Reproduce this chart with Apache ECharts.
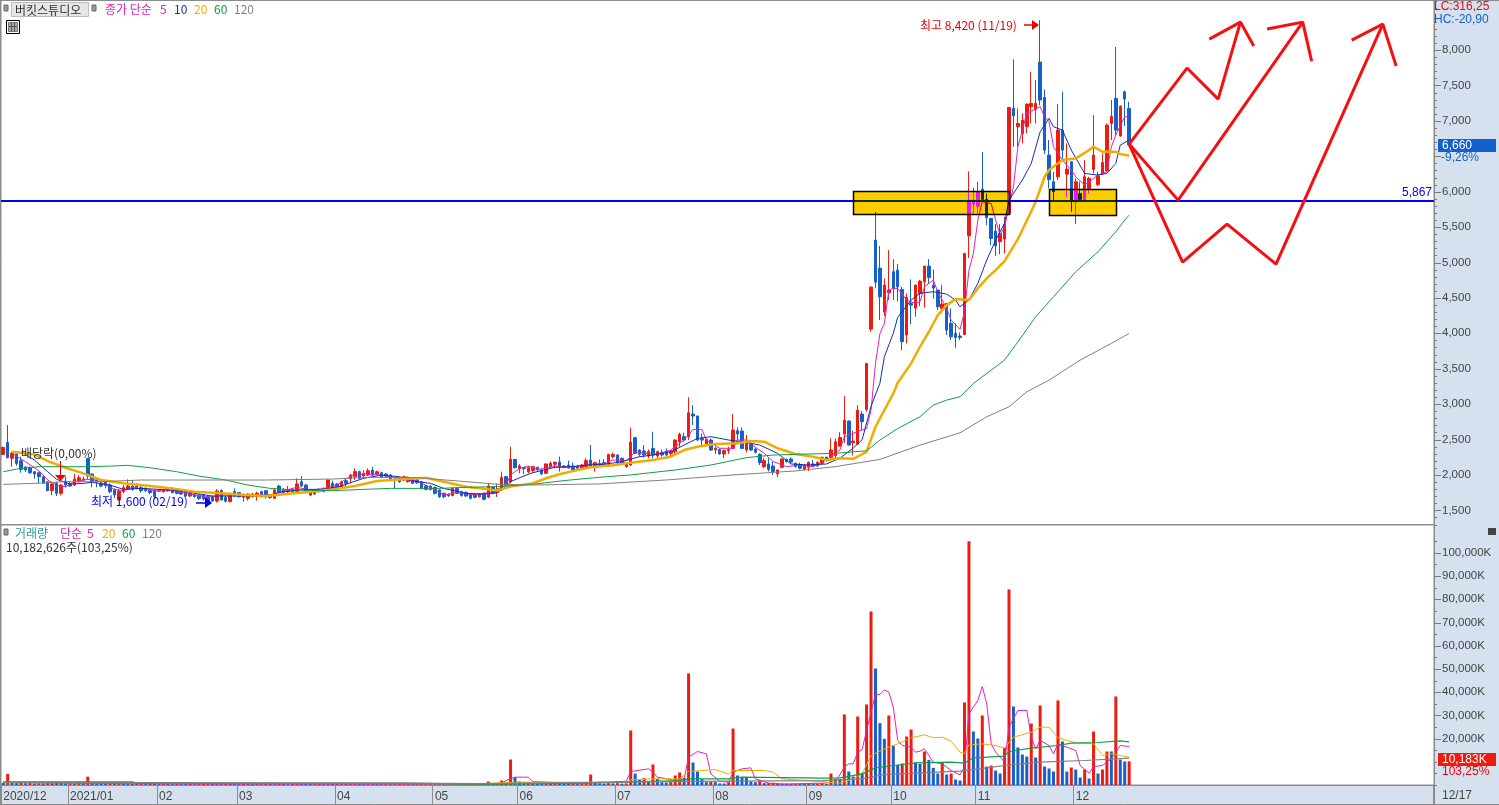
<!DOCTYPE html>
<html><head><meta charset="utf-8">
<script src="https://cdn.jsdelivr.net/npm/echarts@6/dist/echarts.min.js"></script>
<style>html,body{margin:0;padding:0;background:#d6e1ef}#c{width:1499px;height:805px}</style>
</head><body><div id="c"></div>
<script>
// [open, close, low, high]
const candles = [
[2290,2389,2290,2400],[2459,2243,2235,2703],[2234,2304,2116,2327],[2295,2163,2130,2300],[2201,2078,2031,2257],[2111,2069,2045,2125],[2107,2031,2013,2116],[2046,2013,1947,2055],[2031,1975,1881,2046],[1975,1881,1872,1984],
[1905,1778,1770,1915],[1778,1872,1716,1881],[1881,1740,1702,1905],[1740,1857,1712,1872],[1914,1857,1825,1975],[1881,1843,1830,1900],[1857,1942,1843,2013],[1914,1961,1890,1998],[1928,1942,1905,1975],[2234,1984,1940,2240],
[2013,1905,1825,2020],[1928,1905,1825,1952],[1881,1843,1825,1905],[1895,1853,1810,1928],[1857,1764,1740,1881],[1787,1716,1670,1810],[1646,1773,1640,1800],[1764,1820,1740,1857],[1796,1843,1787,1937],[1843,1796,1778,1928],
[1810,1843,1796,1881],[1820,1778,1750,1843],[1810,1778,1760,1825],[1787,1750,1730,1800],[1778,1693,1655,1796],[1773,1787,1760,1800],[1764,1787,1750,1800],[1778,1796,1765,1805],[1810,1750,1740,1820],[1796,1740,1725,1805],
[1778,1731,1716,1790],[1764,1702,1690,1775],[1702,1740,1690,1750],[1721,1693,1680,1735],[1716,1665,1645,1730],[1716,1660,1640,1725],[1693,1622,1600,1710],[1693,1632,1620,1705],[1632,1773,1610,1800],[1778,1646,1640,1796],
[1684,1630,1610,1702],[1622,1740,1615,1745],[1764,1702,1693,1810],[1750,1693,1680,1760],[1684,1716,1622,1740],[1670,1731,1637,1740],[1693,1731,1680,1745],[1693,1740,1637,1764],[1764,1693,1680,1775],[1778,1702,1665,1787],
[1702,1679,1665,1715],[1670,1787,1660,1810],[1843,1754,1745,1860],[1796,1754,1740,1810],[1764,1787,1740,1843],[1796,1764,1750,1810],[1764,1872,1754,1952],[1905,1843,1834,1984],[1857,1764,1750,1870],[1716,1764,1700,1775],
[1731,1787,1720,1800],[1796,1764,1750,1810],[1810,1764,1755,1825],[1787,1928,1778,1937],[1881,1810,1787,1919],[1872,1825,1810,1885],[1834,1905,1820,1920],[1919,1881,1810,1952],[1942,1998,1881,2013],[1975,2046,1928,2092],
[2046,1952,1940,2060],[1984,2022,1952,2069],[1998,2060,1985,2092],[2069,1998,1984,2116],[2013,2046,2000,2060],[2031,1966,1955,2045],[2013,1984,1970,2025],[1998,1928,1915,2010],[1942,1928,1810,1950],[1952,1905,1890,1965],
[1928,1975,1915,1990],[1905,1966,1890,1980],[1937,1881,1870,1950],[1928,1890,1875,1940],[1905,1810,1795,1915],[1843,1796,1785,1855],[1843,1796,1780,1855],[1825,1740,1725,1835],[1787,1693,1675,1800],[1740,1693,1670,1750],
[1726,1707,1690,1740],[1707,1810,1700,1825],[1810,1740,1730,1825],[1764,1707,1695,1775],[1754,1702,1690,1765],[1726,1670,1655,1735],[1726,1684,1670,1735],[1693,1731,1680,1745],[1740,1655,1640,1750],[1684,1843,1680,1880],
[1825,1740,1725,1835],[1750,1801,1690,1880],[1788,1967,1779,2047],[1976,1858,1858,1985],[1905,2220,1882,2399],[2220,2103,2090,2225],[2094,2126,2023,2155],[2103,2089,2014,2108],[2042,2103,2023,2117],[2061,2117,2032,2126],
[2108,2070,2047,2117],[2070,2014,2000,2079],[2023,2155,2014,2164],[2117,2164,2108,2188],[2150,2178,2108,2190],[2183,2108,2047,2258],[2108,2126,2094,2140],[2140,2098,2089,2202],[2126,2070,2056,2173],[2126,2094,2070,2140],
[2079,2140,2070,2155],[2117,2202,2103,2235],[2211,2108,2103,2422],[2126,2173,2047,2188],[2164,2131,2117,2220],[2173,2140,2117,2220],[2126,2291,2117,2296],[2258,2291,2235,2314],[2282,2173,2140,2290],[2235,2155,2140,2245],
[2117,2155,2103,2173],[2140,2465,2126,2667],[2526,2305,2296,2530],[2352,2291,2258,2361],[2338,2282,2244,2422],[2267,2329,2235,2361],[2375,2282,2235,2610],[2267,2329,2211,2343],[2314,2282,2258,2361],[2338,2282,2258,2375],
[2305,2338,2235,2352],[2328,2493,2305,2502],[2470,2573,2399,2596],[2540,2493,2470,2596],[2540,2878,2493,3095],[2860,2831,2705,2986],[2831,2493,2480,2840],[2516,2493,2399,2587],[2437,2502,2422,2516],[2493,2352,2338,2516],
[2352,2375,2296,2399],[2361,2296,2285,2370],[2296,2343,2235,2361],[2343,2361,2296,2399],[2375,2634,2361,2860],[2625,2578,2493,2672],[2620,2375,2370,2672],[2352,2470,2319,2564],[2432,2352,2340,2440],[2366,2319,2305,2375],
[2291,2173,2140,2305],[2117,2202,2094,2235],[2155,2079,2047,2235],[2126,2047,2000,2188],[2014,2070,1967,2079],[2108,2225,2094,2235],[2220,2188,2175,2230],[2225,2183,2164,2249],[2164,2117,2105,2175],[2145,2094,2079,2173],
[2079,2140,2065,2150],[2108,2178,2056,2190],[2155,2126,2108,2211],[2126,2178,2115,2190],[2164,2249,2150,2260],[2249,2202,2190,2260],[2249,2352,2235,2516],[2272,2470,2235,2516],[2407,2529,2397,2605],[2577,2774,2454,3113],
[2760,2421,2415,2770],[2454,2478,2275,2623],[2435,2915,2421,2986],[2859,2751,2633,2901],[2925,3575,2892,3580],[4059,4653,4022,4660],[5317,4723,4634,5712],[4921,4516,4187,5232],[4300,4681,4243,4775],[4573,4610,4469,5175],
[4869,4634,4469,5048],[4893,4657,4455,4978],[4620,3881,3763,4657],[3975,4507,3857,4563],[4422,4398,4130,4761],[4356,4681,4234,4685],[4563,4737,4384,4751],[4728,4949,4361,4955],[4949,4789,4704,5048],[4681,4639,4488,4902],
[4610,4375,4328,4615],[4351,4413,4281,4681],[4422,4045,3975,4430],[4140,3951,3904,4351],[3998,3942,3796,4140],[3961,3942,3904,4012],[3984,5128,3975,5135],[5377,5881,5062,6286],[5825,5881,5693,6055],[5796,6000,5700,6140],
[6037,5891,5881,6559],[5891,5632,5528,5975],[5622,5340,5246,5630],[5443,5236,5095,5542],[5293,5410,5118,5542],[5330,5542,5128,5646],[5693,7190,5680,7195],[7176,7072,6634,7868],[6917,6964,6634,7176],[6823,7011,6682,7105],
[6917,7237,6823,7245],[7199,7246,6964,7694],[7162,7246,6964,7576],[7830,7294,7223,8420],[7331,6587,6531,7444],[6517,6173,6046,6729],[6140,6000,5881,6281],[6211,6870,6164,7237],[6870,6587,6446,7411],[6248,6319,5928,6682],
[6423,5858,5716,6430],[5858,6140,5542,6187],[5975,5891,5872,6140],[5891,6211,5858,6446],[6046,6187,5975,6211],[6314,6517,6258,7082],[6102,6220,6079,6281],[6258,6413,6234,6540],[6295,6940,6281,6964],[6964,7063,6729,7294],
[7317,6870,6799,8042],[6785,7209,6780,7215],[7411,7308,6926,7425],[7176,6660,6650,7270]
];
const volumes = [
900,4800,1000,800,900,700,800,600,700,600,800,700,900,800,600,700,600,800,700,3600,
800,700,600,500,600,500,600,500,400,500,450,500,400,500,450,400,500,450,400,500,
450,400,450,400,500,600,800,500,900,600,700,500,450,400,500,450,400,450,400,500,
450,400,500,450,400,450,800,600,500,450,400,450,400,700,500,450,500,450,600,700,
500,450,600,500,450,400,500,450,400,450,500,450,400,450,400,500,450,400,500,450,
400,500,450,400,450,400,450,500,400,1500,500,600,1930,600,10980,3370,1500,1200,1300,900,
700,600,800,700,800,700,600,500,550,500,600,1000,4520,900,700,600,800,700,800,600,
700,23480,4950,2200,2940,1500,8830,2650,1200,1000,1300,4090,5380,3080,48060,9690,5810,2500,1200,1300,
1250,700,650,1200,24340,4090,3370,3370,1500,1200,2200,800,900,1000,800,700,600,500,600,500,
450,600,500,600,780,490,4940,2640,2640,30380,5800,3650,29500,5230,34690,74780,50200,26640,19890,29950,
17010,8680,9250,20890,23910,9680,9110,14430,10830,7390,4940,9680,4510,4940,2350,1920,35550,104960,23050,20030,
29950,7960,8390,6240,4940,16010,84260,33830,16150,13130,12270,26500,11840,34260,7960,7100,5800,36410,18740,5800,
7530,6670,3220,6670,2790,23050,4940,6670,14430,14430,38140,10980,10120,10183
];
// moving averages: [session index, value]
const ma5 = [[2,2304],[5,2186],[8,2060],[10,1928],[12,1857],[14,1834],[16,1905],[19,1937],[21,1928],[23,1857],[25,1796],[27,1778],[29,1825],[31,1806],[34,1773],[38,1778],[42,1731],[46,1684],[49,1717],[52,1717],[56,1707],[60,1717],[63,1778],[66,1825],[69,1787],[72,1806],[75,1857],[78,1984],[81,2013],[85,1998],[89,1951],[93,1914],[96,1825],[99,1717],[102,1750],[106,1717],[110,1763],[113,1859],[114,1999],[116,2093],[118,2126],[120,2079],[122,2093],[124,2126],[126,2108],[129,2117],[132,2155],[135,2155],[137,2211],[140,2202],[142,2328],[144,2305],[147,2296],[150,2352],[153,2493],[155,2643],[157,2643],[158,2493],[161,2376],[164,2376],[165,2493],[167,2493],[169,2390],[171,2305],[173,2188],[176,2117],[179,2140],[182,2117],[185,2211],[187,2305],[188,2351],[189,2539],[191,2586],[194,2657],[195,2915],[196,3575],[197,3998],[198,4140],[199,4610],[200,4634],[201,4634],[203,4469],[205,4422],[206,4446],[207,4657],[209,4752],[210,4587],[212,4351],[213,4187],[215,4055],[216,4304],[217,4893],[218,5128],[219,5599],[220,5858],[222,5834],[223,5599],[224,5387],[225,5505],[226,5787],[227,6069],[228,6634],[230,7105],[233,7199],[234,7058],[235,6988],[236,6634],[238,6446],[240,6305],[241,6211],[243,6093],[245,6187],[246,6234],[248,6281],[249,6634],[250,6799],[252,7058],[253,7058]];
const ma10 = [[4,2327],[7,2210],[10,2046],[12,1937],[15,1872],[18,1881],[20,1895],[24,1857],[27,1796],[31,1810],[35,1796],[40,1778],[43,1740],[47,1702],[52,1702],[56,1702],[60,1716],[63,1764],[68,1796],[72,1796],[76,1843],[78,1890],[81,1952],[85,1998],[89,1975],[92,1914],[96,1881],[99,1810],[104,1740],[108,1730],[111,1749],[113,1835],[114,1906],[117,1985],[119,2032],[121,2061],[124,2108],[128,2117],[131,2140],[135,2150],[139,2187],[143,2258],[146,2281],[150,2328],[153,2422],[156,2516],[159,2540],[163,2493],[166,2470],[170,2422],[174,2305],[177,2155],[181,2140],[185,2155],[188,2238],[191,2379],[193,2497],[195,2967],[197,3296],[198,3669],[200,3999],[201,4226],[204,4469],[206,4565],[209,4587],[212,4554],[214,4469],[215,4375],[217,4469],[219,4705],[221,5034],[223,5317],[225,5552],[226,5881],[229,6164],[231,6399],[233,6846],[235,7035],[236,6917],[238,6870],[240,6587],[243,6258],[246,6234],[248,6258],[250,6399],[251,6658],[253,6729]];
const ma20 = [[2,2327],[7,2290],[10,2196],[14,2102],[18,2022],[22,1928],[27,1881],[33,1843],[38,1810],[43,1764],[49,1740],[54,1716],[59,1702],[63,1726],[69,1764],[74,1796],[79,1843],[84,1914],[89,1937],[95,1961],[99,1905],[104,1834],[109,1796],[111,1779],[114,1835],[119,1882],[122,1953],[125,2009],[129,2070],[132,2108],[137,2136],[141,2173],[146,2211],[150,2258],[153,2352],[156,2399],[160,2437],[165,2446],[168,2479],[171,2470],[174,2376],[178,2296],[182,2258],[185,2211],[188,2235],[191,2228],[194,2327],[196,2680],[198,2915],[200,3151],[201,3301],[204,3575],[206,3810],[208,4022],[210,4257],[212,4398],[214,4483],[217,4469],[219,4634],[221,4775],[223,4893],[225,5020],[228,5330],[230,5590],[232,5858],[234,6211],[235,6305],[238,6446],[241,6470],[244,6587],[245,6634],[247,6564],[250,6564],[251,6531],[253,6507]];
const ma60 = [[0,2045],[3,2083],[8,2116],[13,2116],[19,2116],[24,2125],[28,2135],[33,2102],[39,2045],[44,1984],[50,1928],[55,1857],[60,1810],[66,1787],[74,1778],[81,1796],[87,1810],[93,1810],[98,1810],[104,1825],[111,1835],[119,1868],[126,1920],[134,1967],[141,2000],[151,2070],[159,2140],[167,2244],[173,2281],[181,2296],[187,2305],[194,2341],[197,2492],[201,2656],[206,2821],[209,2986],[212,3057],[215,3104],[218,3292],[222,3480],[225,3622],[228,3880],[232,4234],[236,4516],[241,4869],[246,5152],[250,5434],[252,5599],[253,5669]];
const ma120 = [[0,1867],[7,1881],[14,1905],[22,1905],[31,1928],[44,1928],[59,1928],[74,1942],[82,1966],[93,1961],[104,1905],[111,1868],[119,1858],[134,1873],[149,1929],[164,2000],[178,2056],[187,2117],[197,2219],[206,2421],[215,2595],[221,2821],[226,2962],[230,3174],[235,3339],[242,3622],[249,3857],[253,3998]];
const volMa5 = [[0,1000],[10,800],[40,500],[107,400],[112,780],[113,1930],[115,3370],[118,3370],[119,1500],[127,780],[131,920],[134,1200],[136,1200],[140,1640],[141,5810],[145,6960],[146,5520],[147,3370],[148,3080],[151,1930],[153,2650],[154,11990],[156,14430],[158,13420],[159,4800],[161,1640],[163,1200],[164,5520],[166,6960],[168,7390],[169,2650],[172,780],[175,400],[184,780],[187,1200],[189,7670],[190,9110],[191,9110],[192,14140],[193,15290],[194,23480],[196,39000],[197,39000],[198,41010],[199,40000],[200,33540],[201,19170],[202,17010],[204,16300],[205,14140],[206,14570],[207,15580],[209,9830],[211,9110],[213,6240],[215,4370],[216,7670],[217,30670],[219,36410],[220,42450],[221,34970],[222,17730],[223,14140],[225,9830],[226,24920],[228,32100],[230,32100],[231,20610],[232,15580],[233,19170],[235,17010],[236,13420],[237,17730],[241,14860],[242,8390],[244,5090],[245,7960],[247,8390],[249,11260],[250,14140],[251,17010],[253,16580]];
const volMa20 = [[0,1100],[30,1000],[40,800],[107,490],[115,1200],[130,1200],[140,1200],[141,2220],[146,2650],[152,2650],[154,5810],[160,6670],[163,4800],[164,6240],[171,6240],[173,5520],[175,2650],[184,1400],[188,780],[191,2640],[193,4800],[195,12700],[198,15580],[201,17730],[204,20320],[207,21610],[209,20320],[211,20600],[213,18880],[215,14140],[216,13420],[217,17300],[220,17730],[223,17010],[225,15860],[227,20600],[231,22760],[233,24920],[235,24920],[237,20320],[241,18160],[245,17730],[247,12700],[249,13420],[253,11980]];
const volMa60 = [[0,1400],[29,1400],[30,800],[90,800],[107,400],[131,780],[140,1200],[152,1930],[154,2650],[163,2650],[166,3370],[184,2930],[188,3070],[193,4800],[196,7390],[200,8390],[205,9540],[213,9830],[216,9400],[218,11700],[225,12410],[226,14430],[231,15860],[237,17010],[240,18020],[246,18310],[251,19030],[253,18590]];
const volMa120 = [[0,1100],[90,850],[107,600],[163,1640],[184,1920],[193,2640],[198,4510],[206,5230],[215,5950],[221,7390],[225,8390],[233,9830],[243,10550],[253,11550]];
const monthStarts = [[0,'2020/12'],[15,'2021/01'],[35,'02'],[53,'03'],[75,'04'],[97,'05'],[116,'06'],[138,'07'],[160,'08'],[181,'09'],[200,'10'],[219,'11'],[241,'12']];
const priceTicks = [1500,2000,2500,3000,3500,4000,4500,5000,5500,6000,6500,7000,7500,8000];
const priceLabels = [1500,2000,2500,3000,3500,4000,4500,5000,5500,6000,7000,7500,8000];
const priceMinor = []; for (let v=1300;v<=8700;v+=100) if (v%500) priceMinor.push(v);
const volTicks = [20000,30000,40000,50000,60000,70000,80000,90000,100000];
const volMinor = [0,5000,10000,15000,25000,35000,45000,55000,65000,75000,85000,95000,105000];
const supportLevel = 5867;
const boxes = [[191,226,5684,6008],[235,250,5670,6037]];
const arrowPaths = [
 [[253,6672],[266,7746],[273,7308],[278,8395]], [[271,8155],[278,8395],[281,8056]],
 [[253,6672],[264,5881],[292,8395]], [[284,8297],[292,8395],[294,7845]],
 [[253,6672],[265,5006],[275,5542],[286,4977],[310,8367]], [[303,8141],[310,8367],[313,7774]]
];
const SLOTS = 322;
const categories = []; for (let i=0;i<SLOTS;i++) categories.push(String(i));
const monthMap = {}; monthStarts.forEach(m=>monthMap[m[0]]=m[1]);

const RED='#ee1c0e', BLUE='#1560cc', MAG='#e020c0', NAVY='#1030b0', ORG='#f0ac00', GRN='#10a040', GRY='#808080', AX='#8c8c8c', TXT='#444444';
const FONT='"Noto Sans CJK KR","Liberation Sans",sans-serif', NUM='"Liberation Sans",sans-serif';
const BOX_XOR='rgb(0,51,255)';

function ln(name,data,color,width,xi,yi,z){return {name,type:'line',data,xAxisIndex:xi,yAxisIndex:yi,symbol:'none',silent:true,z:z||3,
  lineStyle:{color,width},itemStyle:{color},animation:false};}
function tx(x,y,text,fill,font,extra){return Object.assign({type:'text',x,y,silent:true,z:50,style:{text,fill,font:(font||'12px '+FONT),textVerticalAlign:'middle',textAlign:'left'}},extra||{});}
// tick marks on the right of a pane, placed through the pane's own value scale
function tickSeries(name,values,len,xi,yi){return {name,type:'custom',xAxisIndex:xi,yAxisIndex:yi,silent:true,z:20,clip:false,
  data:values.map(v=>[v]),encode:{y:0},
  renderItem:function(p,api){
    const c=api.coord([0,api.value(0)]), x0=p.coordSys.x+p.coordSys.width, y=Math.round(c[1])+.5;
    return {type:'line',shape:{x1:x0,y1:y,x2:x0+len,y2:y},style:{stroke:'#7a7a7a',lineWidth:1,fill:null}};
  }};}

const graphics=[
 {type:'rect',shape:{x:4,y:5,width:4,height:6},style:{fill:'#999',stroke:'#666'},z:50},
 {type:'rect',shape:{x:11.5,y:2.5,width:77,height:14},style:{fill:'#e6e6e6',stroke:'#bbb'},z:50},
 tx(15,10,'버킷스튜디오','#333'),
 {type:'rect',shape:{x:92,y:5,width:4,height:6},style:{fill:'#999',stroke:'#666'},z:50},
 tx(105,9,'종가 단순',MAG), tx(160,9,'5',MAG), tx(174,9,'10',NAVY), tx(194,9,'20',ORG), tx(214,9,'60',GRN), tx(234,9,'120',GRY),
 {type:'rect',shape:{x:6.5,y:20.5,width:13,height:13},style:{fill:'#fff',stroke:'#000'},z:50},
 {type:'rect',shape:{x:8.5,y:22.5,width:9,height:9},style:{fill:'#aaa',stroke:'#777'},z:50},
 {type:'line',shape:{x1:11.5,y1:23,x2:11.5,y2:31},style:{stroke:'#555'},z:51},
 {type:'line',shape:{x1:14.5,y1:23,x2:14.5,y2:31},style:{stroke:'#555'},z:51},
 {type:'line',shape:{x1:9,y1:26.5,x2:17,y2:26.5},style:{stroke:'#555'},z:51},
 {type:'rect',shape:{x:4,y:529,width:4,height:6},style:{fill:'#999',stroke:'#666'},z:50},
 tx(15,533,'거래량','#2a9d9d'), tx(60,533,'단순',MAG), tx(87,533,'5',MAG), tx(102,533,'20',ORG), tx(122,533,'60',GRN), tx(142,533,'120',GRY),
 tx(6,547,'10,182,626주(103,25%)','#333'),
 {type:'rect',shape:{x:1488,y:528,width:8,height:7},style:{fill:'#444'},z:50},
 tx(920,25,'최고 8,420 (11/19)','#f00000'),
 {type:'line',shape:{x1:1024,y1:25,x2:1033,y2:25},style:{stroke:'#f00000',lineWidth:1.5},z:50},
 {type:'polygon',shape:{points:[[1032,20],[1039,25],[1032,30]]},style:{fill:'#f00000'},z:50},
 tx(91,501,'최저 1,600 (02/19)','#0000f0'),
 {type:'line',shape:{x1:196,y1:503,x2:206,y2:503},style:{stroke:'#0000f0',lineWidth:1.5},z:50},
 {type:'polygon',shape:{points:[[205,497],[212,503],[205,508]]},style:{fill:'#0000f0'},z:50},
 tx(21,453,'배당락(0,00%)','#333'),
 {type:'line',shape:{x1:60.5,y1:461,x2:60.5,y2:477},style:{stroke:'#f00000',lineWidth:1},z:50},
 {type:'polygon',shape:{points:[[55,475],[66,475],[60.5,481]]},style:{fill:'#f00000'},z:50},
 tx(1434,7,'LC:316,25','#e01010','12px '+NUM), tx(1434,20,'HC:-20,90',BLUE,'12px '+NUM),
 {type:'rect',shape:{x:1438,y:139,width:58,height:13},style:{fill:BLUE},z:50},
 tx(1442,145.5,'6,660','#fff','12px '+NUM), tx(1441,158,'-9,26%',BLUE,'12px '+NUM),
 {type:'rect',shape:{x:1438,y:753,width:58,height:13},style:{fill:RED},z:50},
 tx(1442,759.5,'10,183K','#fff','12px '+NUM), tx(1442,772,'103,25%','#f00000','12px '+NUM),
 tx(1442,796,'12/17',TXT,'12px '+NUM),
 {type:'line',shape:{x1:1433.5,y1:785,x2:1433.5,y2:805},style:{stroke:AX},z:50},
 {type:'line',shape:{x1:0,y1:804.5,x2:1499,y2:804.5},style:{stroke:AX},z:50},
 {type:'line',shape:{x1:0,y1:0.5,x2:1499,y2:0.5},style:{stroke:AX},z:50},
 {type:'line',shape:{x1:0.5,y1:0,x2:0.5,y2:805},style:{stroke:AX},z:50}
];

const series=[
 {name:'price',type:'candlestick',data:candles,xAxisIndex:0,yAxisIndex:0,barWidth:3,silent:true,z:2,
  itemStyle:{color:RED,color0:BLUE,borderColor:RED,borderColor0:BLUE,borderWidth:1},
  markLine:{silent:true,symbol:'none',animation:false,
    lineStyle:{color:'#0000ff',width:2,type:'solid'},
    label:{position:'insideEndTop',formatter:'5,867',color:'#0000f0',fontFamily:NUM,fontSize:12,distance:[2,2]},
    data:[{yAxis:supportLevel}]}},
 ln('5',ma5,MAG,1,0,0), ln('10',ma10,NAVY,1,0,0), ln('20',ma20,ORG,2.5,0,0), ln('60',ma60,GRN,1,0,0), ln('120',ma120,GRY,1,0,0),
 {name:'boxes',type:'custom',xAxisIndex:0,yAxisIndex:0,silent:true,z:8,data:boxes,clip:false,
  encode:{x:[0,1],y:[2,3]},
  renderItem:function(p,api){
    const a=api.coord([api.value(0),api.value(3)]), b=api.coord([api.value(1),api.value(2)]);
    const x=Math.round(a[0])+.5,y=Math.round(a[1])+.5,w=Math.round(b[0]-a[0]),h=Math.round(b[1]-a[1]);
    return {type:'group',children:[
      {type:'rect',shape:{x,y,width:w,height:h},style:{fill:BOX_XOR}},
      {type:'rect',z2:2,shape:{x,y,width:w,height:h},style:{fill:'none',stroke:'#000',lineWidth:1.5}}
    ]};
  }},
 {name:'vol',type:'bar',data:volumes.map((v,i)=>({value:v,itemStyle:{color:(i>0&&v>volumes[i-1])?RED:BLUE}})),xAxisIndex:1,yAxisIndex:1,barWidth:3,silent:true,z:2},
 ln('v5',volMa5,MAG,1,1,1), ln('v20',volMa20,ORG,1,1,1), ln('v60',volMa60,GRN,1.2,1,1), ln('v120',volMa120,GRY,1.2,1,1),
 tickSeries('priceMajor',priceTicks,7,0,0), tickSeries('priceMinor',priceMinor,3,0,0),
 tickSeries('volMajor',volTicks,7,1,1), tickSeries('volMinor',volMinor,3,1,1)
];
arrowPaths.forEach((p,i)=>series.push(ln('arrow'+i,p,'#f41010',3,0,0,9)));

const yLabel={color:TXT,fontFamily:NUM,fontSize:11.5,margin:8};
const opt={
 animation:false,backgroundColor:'#d6e1ef',
 grid:[
  {left:1,top:0.5,width:1433,height:524,show:true,backgroundColor:'#fff',borderColor:AX,borderWidth:1},
  {left:1,top:525,width:1433,height:260,show:true,backgroundColor:'#fff',borderColor:AX,borderWidth:1}
 ],
 xAxis:[
  {type:'category',gridIndex:0,data:categories,boundaryGap:true,axisLine:{show:false},axisTick:{show:false},axisLabel:{show:false},splitLine:{show:false}},
  {type:'category',gridIndex:1,data:categories,boundaryGap:true,position:'bottom',
   axisLine:{show:true,lineStyle:{color:AX}},
   axisTick:{show:true,length:19,alignWithLabel:false,interval:(i)=>monthMap[i]!==undefined,lineStyle:{color:AX}},
   axisLabel:{show:true,interval:(i)=>monthMap[i]!==undefined,formatter:(v,i)=>monthMap[i]||'',align:'left',color:TXT,fontFamily:NUM,fontSize:12,margin:6,hideOverlap:false,showMinLabel:true,showMaxLabel:true},
   splitLine:{show:false}}
 ],
 yAxis:[
  {type:'value',gridIndex:0,position:'right',min:1300,max:8700,
   axisLine:{show:true,lineStyle:{color:AX}},axisTick:{show:false},
   axisLabel:Object.assign({customValues:priceLabels,formatter:v=>v.toLocaleString('en-US')},yLabel),splitLine:{show:false}},
  {type:'value',gridIndex:1,position:'right',min:0,max:112000,
   axisLine:{show:true,lineStyle:{color:AX}},axisTick:{show:false},
   axisLabel:Object.assign({customValues:volTicks,formatter:v=>v.toLocaleString('en-US')+'K'},yLabel),splitLine:{show:false}}
 ],
 graphic:graphics,
 series
};
const chart=echarts.init(document.getElementById('c'),null,{renderer:'canvas'});
chart.setOption(opt);
const zr=chart.getZr();
function applyBlend(){
  let hit=false;
  zr.storage.getDisplayList(true).forEach(el=>{
    if(el.style&&el.style.fill===BOX_XOR&&el.style.blend!=='difference'){el.style.blend='difference';el.markRedraw();hit=true;}
  });
  if(hit) zr.flush();
}
applyBlend();
</script></body></html>
